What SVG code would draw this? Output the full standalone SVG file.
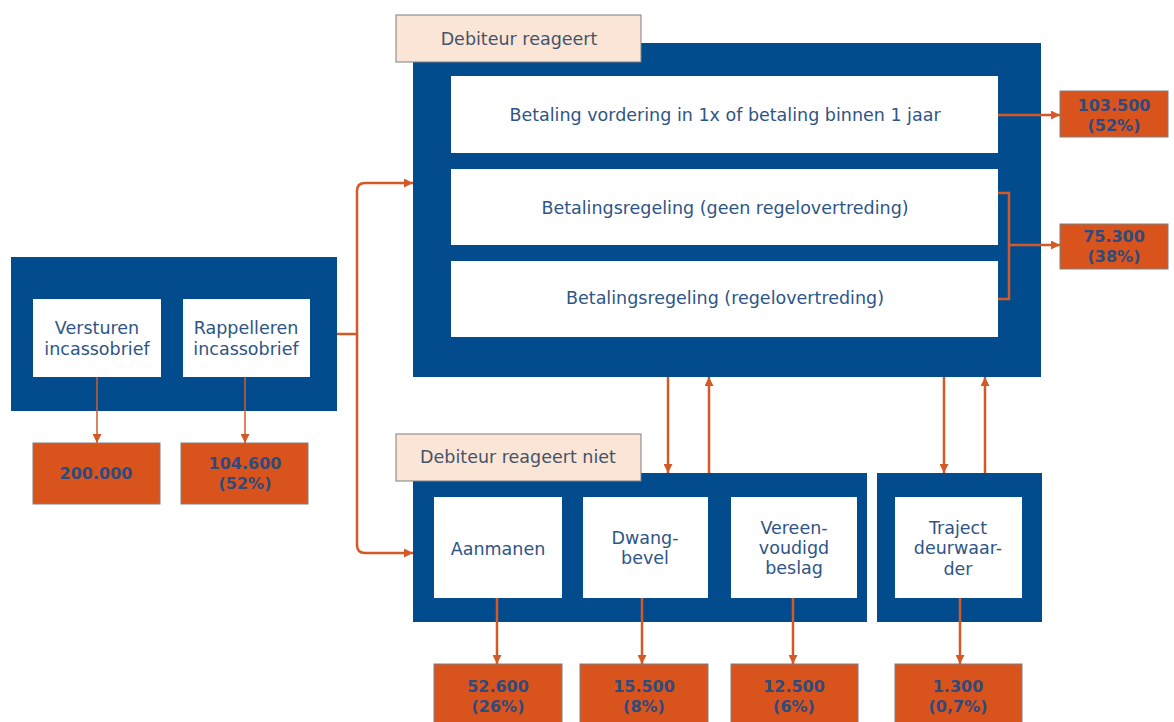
<svg xmlns="http://www.w3.org/2000/svg" width="1174" height="722" viewBox="0 0 1174 722">
<defs>
<style>
.blue{fill:#024C8E}
.white{fill:#FFFFFF}
.peach{fill:#FBE5D6;stroke:#7F7F7F;stroke-width:1}
.res{fill:#D8541C;stroke:#7F7F7F;stroke-width:1}
.t{font-family:"DejaVu Sans",Verdana,sans-serif;font-size:17.5px;fill:#2E5586;text-anchor:middle}
.lbl{font-family:"DejaVu Sans",Verdana,sans-serif;font-size:17.5px;fill:#44546A;text-anchor:middle}
.num{font-family:"DejaVu Sans",Verdana,sans-serif;font-size:16px;font-weight:bold;fill:#2F4A7C;text-anchor:middle}
.c{fill:none;stroke:#D35A26;stroke-width:2.5}
.cs{fill:none;stroke:#D35A26;stroke-width:1.5}
</style>
<marker id="ah" viewBox="0 0 10 10" refX="10" refY="5" markerWidth="10" markerHeight="9" markerUnits="userSpaceOnUse" orient="auto">
<path d="M0,0 L10,5 L0,10 z" fill="#D35A26"/>
</marker>
<marker id="ahs" viewBox="0 0 10 10" refX="10" refY="5" markerWidth="9" markerHeight="9" markerUnits="userSpaceOnUse" orient="auto">
<path d="M0,0 L10,5 L0,10 z" fill="#D35A26"/>
</marker>
</defs>
<rect width="1174" height="722" fill="#FFFFFF"/>

<g id="incasso">
<rect class="blue" x="11" y="257" width="326" height="154"/>
<g id="versturen">
<rect class="white" x="33" y="299" width="128" height="78"/>
<text class="t" x="97" y="334">Versturen</text>
<text class="t" x="97" y="355">incassobrief</text>
</g>
<g id="rappelleren">
<rect class="white" x="183" y="299" width="127" height="78"/>
<text class="t" x="246" y="334">Rappelleren</text>
<text class="t" x="246" y="355">incassobrief</text>
</g>
</g>

<g id="res-200000">
<rect class="res" x="33" y="443" width="127" height="61"/>
<text class="num" x="96" y="479">200.000</text>
</g>
<g id="res-104600">
<rect class="res" x="181" y="443" width="127" height="61"/>
<text class="num" x="245" y="469">104.600</text>
<text class="num" x="245" y="489">(52%)</text>
</g>

<g id="reageert">
<rect class="blue" x="413" y="43" width="628" height="334"/>
<g id="betaling1">
<rect class="white" x="451" y="76" width="547" height="77"/>
<text class="t" x="725" y="121">Betaling vordering in 1x of betaling binnen 1 jaar</text>
</g>
<g id="regeling-geen">
<rect class="white" x="451" y="169" width="547" height="76"/>
<text class="t" x="725" y="214">Betalingsregeling (geen regelovertreding)</text>
</g>
<g id="regeling-over">
<rect class="white" x="451" y="261" width="547" height="76"/>
<text class="t" x="725" y="304">Betalingsregeling (regelovertreding)</text>
</g>
<g id="label-reageert">
<rect class="peach" x="396" y="15" width="245" height="47"/>
<text class="lbl" x="519" y="45">Debiteur reageert</text>
</g>
</g>

<g id="res-103500">
<rect class="res" x="1060" y="91" width="108" height="46"/>
<text class="num" x="1114" y="111">103.500</text>
<text class="num" x="1114" y="131">(52%)</text>
</g>
<g id="res-75300">
<rect class="res" x="1060" y="224" width="108" height="45"/>
<text class="num" x="1114" y="242">75.300</text>
<text class="num" x="1114" y="262">(38%)</text>
</g>

<g id="reageert-niet">
<rect class="blue" x="413" y="473" width="454" height="149"/>
<g id="aanmanen">
<rect class="white" x="434" y="497" width="128" height="101"/>
<text class="t" x="498" y="555">Aanmanen</text>
</g>
<g id="dwangbevel">
<rect class="white" x="583" y="497" width="125" height="101"/>
<text class="t" x="645" y="544">Dwang-</text>
<text class="t" x="645" y="564">bevel</text>
</g>
<g id="beslag">
<rect class="white" x="731" y="497" width="126" height="101"/>
<text class="t" x="794" y="534">Vereen-</text>
<text class="t" x="794" y="554">voudigd</text>
<text class="t" x="794" y="574">beslag</text>
</g>
<g id="label-niet">
<rect class="peach" x="396" y="434" width="245" height="47"/>
<text class="lbl" x="518" y="463">Debiteur reageert niet</text>
</g>
</g>

<g id="deurwaarder">
<rect class="blue" x="877" y="473" width="165" height="149"/>
<rect class="white" x="895" y="497" width="127" height="101"/>
<text class="t" x="958" y="534">Traject</text>
<text class="t" x="958" y="554">deurwaar-</text>
<text class="t" x="958" y="575">der</text>
</g>

<g id="res-52600">
<rect class="res" x="434" y="664" width="128" height="62"/>
<text class="num" x="498" y="692">52.600</text>
<text class="num" x="498" y="712">(26%)</text>
</g>
<g id="res-15500">
<rect class="res" x="580" y="664" width="128" height="62"/>
<text class="num" x="644" y="692">15.500</text>
<text class="num" x="644" y="712">(8%)</text>
</g>
<g id="res-12500">
<rect class="res" x="731" y="664" width="127" height="62"/>
<text class="num" x="794" y="692">12.500</text>
<text class="num" x="794" y="712">(6%)</text>
</g>
<g id="res-1300">
<rect class="res" x="895" y="664" width="127" height="62"/>
<text class="num" x="958" y="692">1.300</text>
<text class="num" x="958" y="712">(0,7%)</text>
</g>

<g id="connectors">
<path class="cs" d="M97,377 V443" marker-end="url(#ahs)"/>
<path class="cs" d="M245,377 V443" marker-end="url(#ahs)"/>
<path class="c" d="M337,334 H357"/>
<path class="c" d="M357,334 V191 Q357,183 365,183 H413" marker-end="url(#ah)"/>
<path class="c" d="M357,334 V545 Q357,553 365,553 H413" marker-end="url(#ah)"/>
<path class="c" d="M998,115 H1060" marker-end="url(#ah)"/>
<path class="c" d="M998,193 H1009 V299 H998"/>
<path class="c" d="M1009,245 H1060" marker-end="url(#ah)"/>
<path class="c" d="M668,377 V473" marker-end="url(#ah)"/>
<path class="c" d="M709,473 V377" marker-end="url(#ah)"/>
<path class="c" d="M944,377 V473" marker-end="url(#ah)"/>
<path class="c" d="M985,473 V377" marker-end="url(#ah)"/>
<path class="c" d="M497,598 V664" marker-end="url(#ah)"/>
<path class="c" d="M642,598 V664" marker-end="url(#ah)"/>
<path class="c" d="M793,598 V664" marker-end="url(#ah)"/>
<path class="c" d="M960,598 V664" marker-end="url(#ah)"/>
</g>
</svg>
